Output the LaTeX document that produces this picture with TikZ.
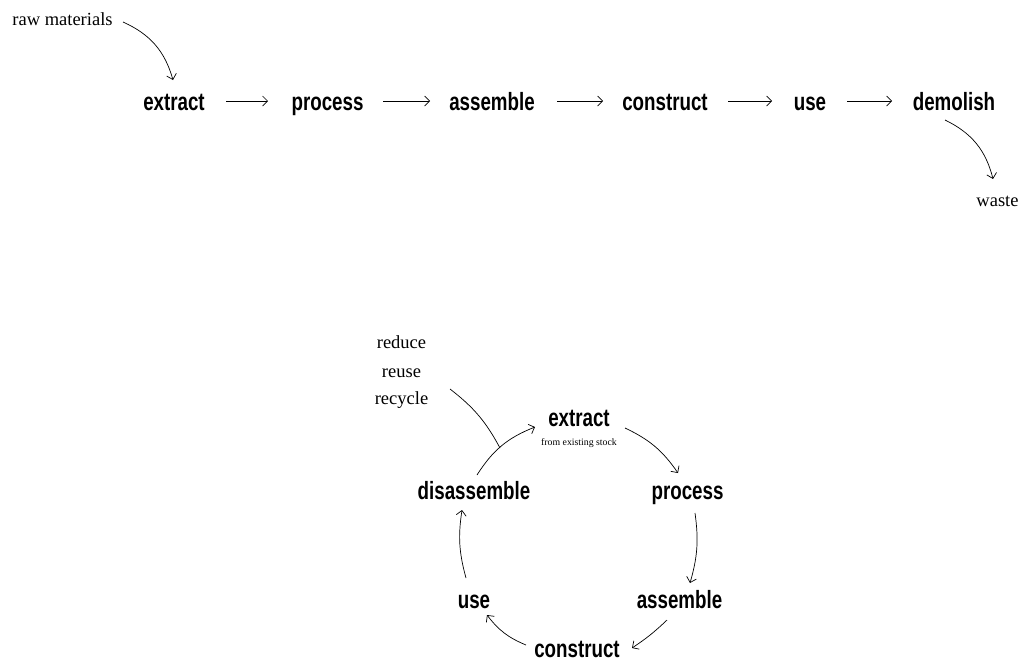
\documentclass[tikz,border=0pt]{standalone}
\usepackage{fontspec}
\setmainfont{Liberation Serif}
\newfontfamily\stepfont{Liberation Sans}
\usetikzlibrary{arrows.meta}
\begin{document}
\begin{tikzpicture}[x=1pt,y=-1pt,
  stage/.style={inner sep=0pt, anchor=base, font=\stepfont\bfseries\fontsize{25}{28}\selectfont, xscale=0.75},
  note/.style={inner sep=0pt, anchor=base, font=\fontsize{18.5}{22}\selectfont},
  flow/.style={-{Straight Barb[length=5pt,width=10pt]}, line width=0.7pt}]
\useasboundingbox (0,0) rectangle (1019,662);

% linear chain
\node[stage] (e1) at (174,110) {extract};
\node[stage] (p1) at (327.5,110) {process};
\node[stage] (a1) at (492,110) {assemble};
\node[stage] (c1) at (665,110) {construct};
\node[stage] (u1) at (810,110) {use};
\node[stage] (d1) at (954,110) {demolish};
\node[note] (raw) at (62.5,25) {raw materials};
\node[note] (waste) at (997.5,206) {waste};

\draw[flow] ([shift={(52,-9)}]e1.base) -- ([shift={(-59.5,-9)}]p1.base);
\draw[flow] ([shift={(55.5,-9)}]p1.base) -- ([shift={(-62,-9)}]a1.base);
\draw[flow] ([shift={(65,-9)}]a1.base) -- ([shift={(-62,-9)}]c1.base);
\draw[flow] ([shift={(63,-9)}]c1.base) -- ([shift={(-38,-9)}]u1.base);
\draw[flow] ([shift={(37,-9)}]u1.base) -- ([shift={(-62,-9)}]d1.base);
\draw[flow] ([shift={(60.5,-3)}]raw.base) to[bend left=25] ([shift={(-1,-30)}]e1.base);
\draw[flow] ([shift={(-9,10)}]d1.base) to[bend left=25] ([shift={(-4.5,-27)}]waste.base);

% circular chain
\node[stage] (e2) at (579,426) {extract};
\node[inner sep=0pt, anchor=base, font=\fontsize{9.8}{11}\selectfont] (fs) at (579,445) {from existing stock};
\node[stage] (p2) at (687.5,499) {process};
\node[stage] (a2) at (679.5,608) {assemble};
\node[stage] (c2) at (577,657) {construct};
\node[stage] (u2) at (474,608) {use};
\node[stage] (d2) at (474,499) {disassemble};
\node[note] (rd) at (401.5,348) {reduce};
\node[note] (ru) at (401.5,377) {reuse};
\node[note] (rc) at (401.5,404) {recycle};

\draw[flow] ([shift={(46,2)}]e2.base) to[bend left=15] ([shift={(-9.5,-26)}]p2.base);
\draw[flow] ([shift={(7.5,14)}]p2.base) to[bend left=12] ([shift={(10.5,-25)}]a2.base);
\draw[flow] ([shift={(-12.5,12)}]a2.base) to[bend left=5] ([shift={(55,-9)}]c2.base);
\draw[flow] ([shift={(-51,-12)}]c2.base) to[bend left=15] ([shift={(13,7)}]u2.base);
\draw[flow] ([shift={(-8,-30)}]u2.base) to[bend left=12] ([shift={(-12,11)}]d2.base);
\draw[flow] ([shift={(3,-24)}]d2.base) to[bend left=18] ([shift={(-44,1)}]e2.base);
\draw[line width=0.7pt] ([shift={(48.5,-15)}]rc.base) to[bend left=12] ([shift={(26,-51)}]d2.base);
\end{tikzpicture}
\end{document}
